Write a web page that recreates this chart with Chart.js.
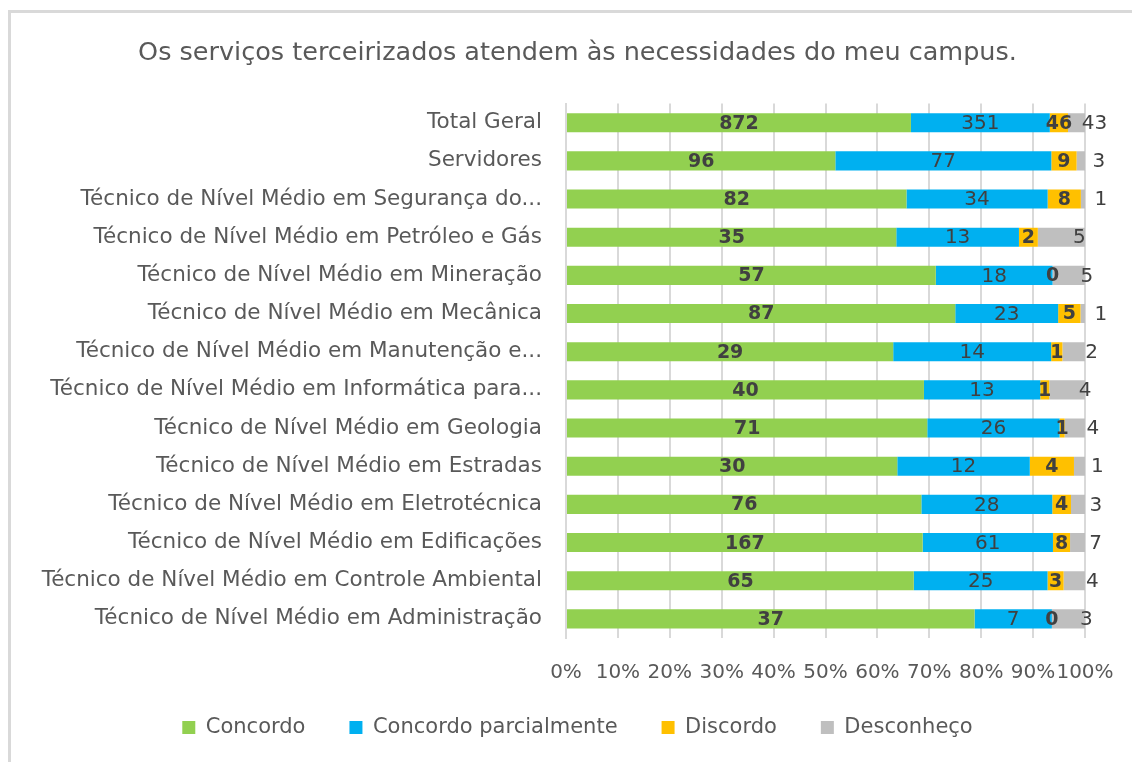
<!DOCTYPE html>
<html>
<head>
<meta charset="utf-8">
<script src="https://cdn.jsdelivr.net/npm/chart.js@4.4.1/dist/chart.umd.min.js"></script>
<style>
  html, body { margin: 0; padding: 0; background: #fff; }
  #wrap { position: relative; width: 1132px; height: 762px; overflow: hidden; }
  #frame { position: absolute; left: 8px; top: 10px; width: 1200px; height: 800px;
           border-top: 3px solid #d9d9d9; border-left: 3px solid #d9d9d9; }
  canvas { position: absolute; left: 0; top: 0; }
</style>
</head>
<body>
<div id="wrap">
  <div id="frame"></div>
  <canvas id="chart" width="1132" height="762"></canvas>
</div>
<script>
var categorias = [
  "Total Geral",
  "Servidores",
  "Técnico de Nível Médio em Segurança do...",
  "Técnico de Nível Médio em Petróleo e Gás",
  "Técnico de Nível Médio em Mineração",
  "Técnico de Nível Médio em Mecânica",
  "Técnico de Nível Médio em Manutenção e...",
  "Técnico de Nível Médio em Informática para...",
  "Técnico de Nível Médio em Geologia",
  "Técnico de Nível Médio em Estradas",
  "Técnico de Nível Médio em Eletrotécnica",
  "Técnico de Nível Médio em Edificações",
  "Técnico de Nível Médio em Controle Ambiental",
  "Técnico de Nível Médio em Administração"
];
var concordo    = [872, 96, 82, 35, 57, 87, 29, 40, 71, 30, 76, 167, 65, 37];
var parcial     = [351, 77, 34, 13, 18, 23, 14, 13, 26, 12, 28, 61, 25, 7];
var discordo    = [46, 9, 8, 2, 0, 5, 1, 1, 1, 4, 4, 8, 3, 0];
var desconheco  = [43, 3, 1, 5, 5, 1, 2, 4, 4, 1, 3, 7, 4, 3];
var xTicks = ["0%", "10%", "20%", "30%", "40%", "50%", "60%", "70%", "80%", "90%", "100%"];

var FONT = "'DejaVu Sans', sans-serif";
var TXT = "#595959";

var totais = concordo.map(function (v, i) {
  return v + parcial[i] + discordo[i] + desconheco[i];
});
function pct(arr) {
  return arr.map(function (v, i) { return v / totais[i] * 100; });
}

var series = [
  { label: "Concordo", raw: concordo, color: "#92D050", bold: true, dx: 0 },
  { label: "Concordo parcialmente", raw: parcial, color: "#00B0F0", bold: false, dx: 0 },
  { label: "Discordo", raw: discordo, color: "#FFC000", bold: true, dx: 0 },
  { label: "Desconheço", raw: desconheco, color: "#BFBFBF", bold: false, dx: 18 }
];

// desenha os rótulos de valor no meio de cada segmento
var rotulos = {
  id: "rotulos",
  afterLayout: function (chart) {
    // rótulos dos eixos passam das caixas das escalas; evita o recorte
    chart.scales.y.left = 0;
    chart.scales.x.bottom = chart.height;
  },
  afterDatasetsDraw: function (chart) {
    var ctx = chart.ctx;
    ctx.save();
    ctx.textAlign = "center";
    ctx.textBaseline = "middle";
    ctx.fillStyle = "#404040";
    chart.data.datasets.forEach(function (ds, di) {
      var s = series[di];
      ctx.font = (s.bold ? "bold 19px " : "20px ") + FONT;
      chart.getDatasetMeta(di).data.forEach(function (bar, i) {
        var x = (bar.x + bar.base) / 2 + s.dx;
        ctx.fillText(String(s.raw[i]), x, bar.y + 1);
      });
    });
    ctx.restore();
  }
};

new Chart(document.getElementById("chart"), {
  type: "bar",
  data: {
    labels: categorias,
    datasets: series.map(function (s) {
      return {
        label: s.label,
        data: pct(s.raw),
        backgroundColor: s.color,
        borderWidth: 0,
        barPercentage: 0.5,
        categoryPercentage: 1
      };
    })
  },
  options: {
    indexAxis: "y",
    responsive: false,
    animation: false,
    layout: { padding: { left: 70, right: 47, top: 0, bottom: 14 } },
    plugins: {
      title: {
        display: true,
        text: "Os serviços terceirizados atendem às necessidades do meu campus.",
        color: TXT,
        font: { family: FONT, size: 25.5, weight: "normal" },
        padding: { top: 38, bottom: 35 }
      },
      legend: {
        position: "bottom",
        labels: {
          color: TXT,
          font: { family: FONT, size: 21 },
          boxWidth: 13,
          boxHeight: 13,
          padding: 44
        }
      },
      tooltip: { enabled: false }
    },
    scales: {
      x: {
        stacked: true,
        min: 0,
        max: 100,
        grid: { color: "#d9d9d9", lineWidth: 2, drawTicks: false },
        border: { display: false },
        ticks: {
          stepSize: 10,
          color: TXT,
          padding: 23,
          maxRotation: 0,
          autoSkip: false,
          font: { family: FONT, size: 20 },
          callback: function (v, i) { return xTicks[i]; }
        },
        // a legenda tem muito espaço em cima; deixa os rótulos do eixo entrarem nele
        afterFit: function (scale) {
          scale.height = 35;
          scale.paddingLeft = 0;
          scale.paddingRight = 0;
        }
      },
      y: {
        stacked: true,
        grid: { display: false, drawTicks: false },
        border: { display: true, color: "#d9d9d9", width: 2 },
        ticks: {
          color: TXT,
          padding: 24,
          autoSkip: false,
          font: { family: FONT, size: 21.5 }
        },
        afterFit: function (scale) { scale.width = 496; }
      }
    }
  },
  plugins: [rotulos]
});
</script>
</body>
</html>
